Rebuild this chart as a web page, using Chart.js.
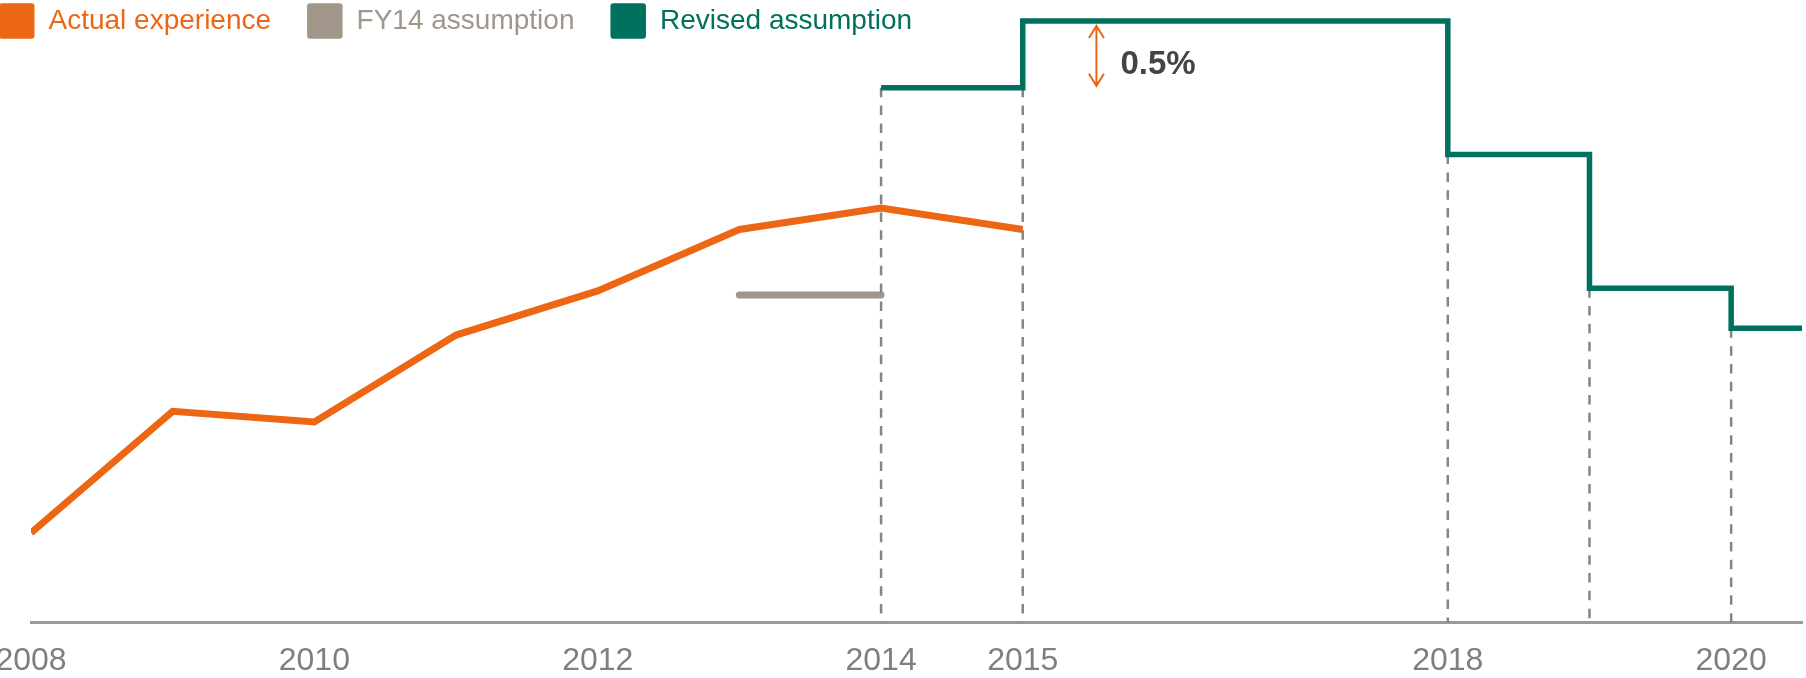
<!DOCTYPE html>
<html>
<head>
<meta charset="utf-8">
<script src="https://cdn.jsdelivr.net/npm/chart.js@4.4.1/dist/chart.umd.min.js"></script>
<style>
  html, body { margin: 0; padding: 0; background: #ffffff; width: 1806px; height: 678px; overflow: hidden; position: relative; }
  #wrap { position: absolute; left: -40px; top: 0; width: 1846px; height: 678px; }
  canvas { display: block; }
</style>
</head>
<body>
<div id="wrap"><canvas id="c" width="1846" height="678"></canvas></div>
<script>
// ---- data ----
const categories = [2008, 2009, 2010, 2011, 2012, 2013, 2014, 2015];
const actualValues = [0.67, 1.58, 1.50, 2.15, 2.48, 2.94, 3.10, 2.94];
const fy14Years = [2013, 2014];
const fy14Values = [2.45, 2.45];
const revisedYears = [2014, 2015, 2018, 2019, 2020, 2020.5];
const revisedValues = [4.0, 4.5, 3.5, 2.5, 2.2, 2.2];
const dropYears = [2014, 2015, 2018, 2019, 2020];
const dropValues = [4.0, 4.0, 3.5, 2.5, 2.2];
const tickYears = [2008, 2010, 2012, 2014, 2015, 2018, 2020];
const gapYear = [2015.52];
const gapRange = [4.0, 4.5];
const gapLabel = '0.5%';
const seriesLabels = ['Actual experience', 'FY14 assumption', 'Revised assumption'];

// ---- styles ----
const ORANGE = '#EC6614';
const GREY = '#A0968A';
const TEAL = '#00705F';
const DASH = '#858585';
const FONT = "'Liberation Sans', Arial, Helvetica, sans-serif";

const toPts = (xs, ys) => xs.map((x, i) => ({ x: x, y: ys[i] }));

const legendPlugin = {
  id: 'customLegend',
  afterDraw(chart) {
    const ctx = chart.ctx;
    ctx.save();
    ctx.font = '28px ' + FONT;
    ctx.textBaseline = 'alphabetic';
    ctx.textAlign = 'left';
    let x = 39;
    const boxY = 3.3, box = 35.5;
    chart.data.datasets.forEach(ds => {
      if (!ds.legendColor) return;
      ctx.fillStyle = ds.legendColor;
      ctx.beginPath();
      if (ctx.roundRect) ctx.roundRect(x, boxY, box, box, 3); else ctx.rect(x, boxY, box, box);
      ctx.fill();
      const tx = x + box + 14;
      ctx.fillText(ds.label, tx, 29);
      x = tx + ctx.measureText(ds.label).width + 36;
    });
    ctx.restore();
  }
};

const gapPlugin = {
  id: 'gapArrow',
  afterDatasetsDraw(chart) {
    const ctx = chart.ctx;
    const xs = chart.scales.x, ys = chart.scales.y;
    const x = xs.getPixelForValue(gapYear[0]);
    const yTop = ys.getPixelForValue(gapRange[1]) + 5;
    const yBot = ys.getPixelForValue(gapRange[0]) - 2;
    ctx.save();
    ctx.strokeStyle = ORANGE;
    ctx.lineWidth = 2;
    ctx.lineCap = 'butt';
    ctx.lineJoin = 'miter';
    ctx.beginPath();
    ctx.moveTo(x, yTop); ctx.lineTo(x, yBot);
    ctx.moveTo(x - 7.5, yTop + 12); ctx.lineTo(x, yTop); ctx.lineTo(x + 7.5, yTop + 12);
    ctx.moveTo(x - 7.5, yBot - 12); ctx.lineTo(x, yBot); ctx.lineTo(x + 7.5, yBot - 12);
    ctx.stroke();
    ctx.fillStyle = '#444444';
    ctx.font = 'bold 33px ' + FONT;
    ctx.textAlign = 'left';
    ctx.textBaseline = 'alphabetic';
    ctx.fillText(gapLabel, x + 24, (yTop + yBot) / 2 + 18);
    ctx.restore();
  }
};

new Chart(document.getElementById('c'), {
  type: 'line',
  data: {
    datasets: [
      {
        label: seriesLabels[0], legendColor: ORANGE,
        data: toPts(categories, actualValues),
        borderColor: ORANGE, borderWidth: 7, borderJoinStyle: 'miter', borderCapStyle: 'butt',
        pointRadius: 0, tension: 0, order: 2
      },
      {
        label: seriesLabels[1], legendColor: GREY,
        data: toPts(fy14Years, fy14Values),
        borderColor: GREY, borderWidth: 7, borderCapStyle: 'round',
        pointRadius: 0, order: 3
      },
      {
        label: seriesLabels[2], legendColor: TEAL,
        data: toPts(revisedYears, revisedValues),
        borderColor: TEAL, borderWidth: 5.5, stepped: 'before', borderJoinStyle: 'miter',
        pointRadius: 0, order: 0
      },
      {
        label: 'drop lines',
        data: dropYears.flatMap((yr, i) => [{ x: yr, y: dropValues[i] }, { x: yr, y: 0 }, { x: yr, y: null }]),
        borderColor: DASH, borderWidth: 2.5, borderDash: [9.5, 8.3], spanGaps: false,
        pointRadius: 0, order: 1
      }
    ]
  },
  options: {
    responsive: false,
    animation: false,
    devicePixelRatio: 1,
    events: [],
    layout: { padding: { left: 71, right: 4, top: 7.6, bottom: 0 } },
    plugins: { legend: { display: false }, tooltip: { enabled: false } },
    scales: {
      x: {
        type: 'linear', min: 2008, max: 2020.5,
        grid: { display: false, drawTicks: false },
        border: { display: true, color: '#999999', width: 3 },
        afterBuildTicks: (scale) => { scale.ticks = tickYears.map(v => ({ value: v })); },
        afterFit: (scale) => { scale.height = 55.6; },
        ticks: {
          autoSkip: false, maxRotation: 0, padding: 20,
          color: '#7F7F7F', font: { family: FONT, size: 32 },
          callback: (v) => String(v)
        }
      },
      y: { display: false, min: 0, max: 4.6 }
    }
  },
  plugins: [legendPlugin, gapPlugin]
});
</script>
</body>
</html>
